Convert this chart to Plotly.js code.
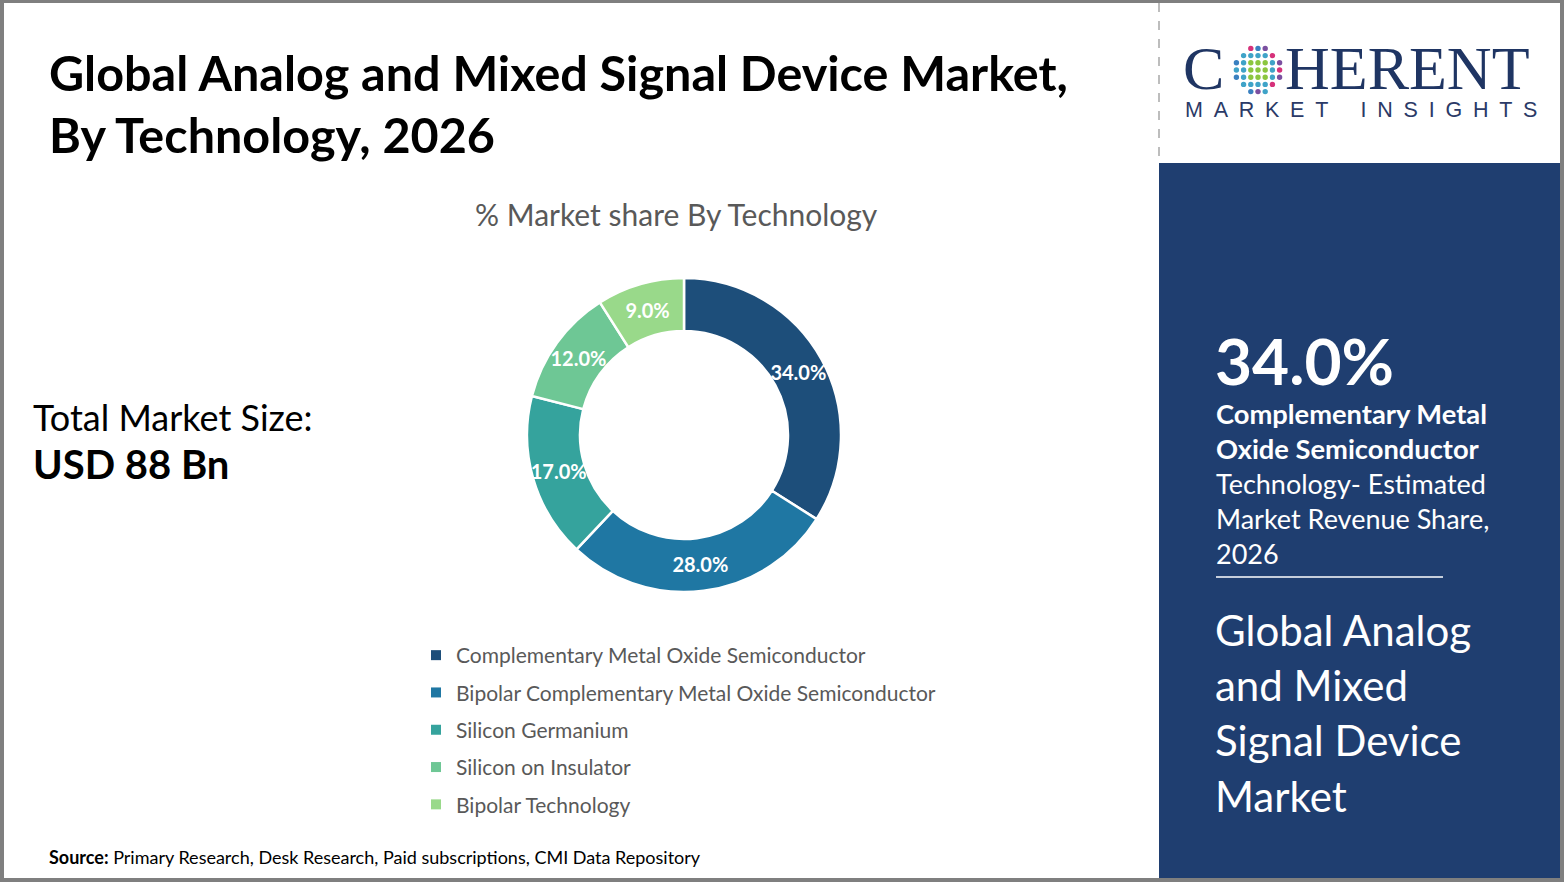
<!DOCTYPE html>
<html>
<head>
<meta charset="utf-8">
<script src="https://cdn.plot.ly/plotly-3.0.1.min.js"></script>
<style>html,body{margin:0;padding:0;background:#7f7f7f;}#chart{width:1564px;height:882px;}</style>
</head>
<body>
<div id="chart"></div>
<script>
// ---- data ----
const categories = [
  "Complementary Metal Oxide Semiconductor",
  "Bipolar Complementary Metal Oxide Semiconductor",
  "Silicon Germanium",
  "Silicon on Insulator",
  "Bipolar Technology"
];
const shares = [34.0, 28.0, 17.0, 12.0, 9.0];
const sliceColors = ["#1d4e7a", "#1f77a3", "#35a39d", "#6ec795", "#99d98a"];
const titleLines = ["Global Analog and Mixed Signal Device Market,", "By Technology, 2026"];
const chartSubtitle = "% Market share By Technology";
const marketSizeLabel = "Total Market Size:";
const marketSizeValue = "USD 88 Bn";
const highlightValue = "34.0%";
const highlightBold = ["Complementary Metal", "Oxide Semiconductor"];
const highlightText = ["Technology- Estimated", "Market Revenue Share,", "2026"];
const panelTitle = ["Global Analog", "and Mixed", "Signal Device", "Market"];
const sourceText = "<b>Source:</b> Primary Research, Desk Research, Paid subscriptions, CMI Data Repository";

// ---- helpers ----
const W = 1564, H = 882;
const px = x => x / W;
const py = y => 1 - y / H;
const BODY = "Lato, 'Open Sans', sans-serif";
const SERIF = "'Liberation Serif', 'DejaVu Serif', serif";

function ann(text, x, y, size, opt) {
  opt = opt || {};
  const a = {
    text: text, x: px(x), y: py(y), xref: 'paper', yref: 'paper',
    xanchor: opt.xanchor || 'left', yanchor: 'middle', showarrow: false,
    font: {family: opt.family || BODY, size: size, color: opt.color || '#000', weight: opt.bold ? 'bold' : 'normal'}
  };
  if (opt.height) { a.height = opt.height; a.valign = 'middle'; }
  return a;
}
function rect(x0, y0, x1, y1, color) {
  return {type: 'rect', xref: 'paper', yref: 'paper', x0: px(x0), x1: px(x1), y0: py(y1), y1: py(y0),
          fillcolor: color, line: {width: 0}, layer: 'below'};
}

// donut geometry (pixels)
const CX = 684, CY = 435, R_OUT = 157, R_IN = 104;
const R_MID = (R_OUT + R_IN) / 2;

// ---- traces ----
// visible donut ring
const pie = {
  type: 'pie',
  labels: categories,
  values: shares,
  sort: false,
  direction: 'clockwise',
  rotation: 0,
  hole: R_IN / R_OUT,
  marker: {colors: sliceColors, line: {color: '#ffffff', width: 2.5}},
  textinfo: 'none',
  showlegend: false,
  hoverinfo: 'label+percent',
  domain: {x: [px(CX - R_OUT), px(CX + R_OUT)], y: [py(CY + R_OUT), py(CY - R_OUT)]}
};
// transparent, slightly thicker ring of the same slices (same mid radius) that carries the % labels
const HALF_BAND = 34;
const R_LBL = R_MID + HALF_BAND;
const labelPie = {
  type: 'pie',
  labels: categories,
  values: shares,
  sort: false,
  direction: 'clockwise',
  rotation: 0,
  hole: (R_MID - HALF_BAND) / R_LBL,
  marker: {colors: shares.map(() => 'rgba(0,0,0,0)'), line: {width: 0}},
  texttemplate: '%{value:.1f}%',
  textposition: 'inside',
  insidetextorientation: 'horizontal',
  textfont: {family: BODY, size: 20, color: '#ffffff', weight: 'bold'},
  showlegend: false,
  hoverinfo: 'skip',
  domain: {x: [px(CX - R_LBL), px(CX + R_LBL)], y: [py(CY + R_LBL), py(CY - R_LBL)]}
};

const legendTraces = categories.map((c, i) => ({
  type: 'scatter', mode: 'markers', x: [null], y: [null],
  name: c, legendgroup: 'g' + i, showlegend: true,
  marker: {symbol: 'square', size: 10, color: sliceColors[i]},
  xaxis: 'x', yaxis: 'y', hoverinfo: 'skip'
}));

// ---- shapes ----
const shapes = [
  rect(4, 3, 1560, 878, '#ffffff'),
  rect(1159, 163, 1560, 878, '#1f3e70'),
  {type: 'line', xref: 'paper', yref: 'paper', x0: px(1159), x1: px(1159), y0: py(3), y1: py(163),
   line: {color: '#bdbdbd', width: 2, dash: 'dash'}, layer: 'below'},
  {type: 'line', xref: 'paper', yref: 'paper', x0: px(1216), x1: px(1443), y0: py(577), y1: py(577),
   line: {color: '#ffffff', width: 1.5}}
];
// logo globe dots (decorative)
const outerCols = ['#d6317a', '#3a80c0', '#7b4fa0', '#3fa3c8'];
let k = 0;
for (let r = -3; r <= 3; r++) {
  for (let c = -3; c <= 3; c++) {
    const d = Math.sqrt(r * r + c * c);
    if (d > 3.3) continue;
    const cx = 1258 + c * 7.2, cy = 70 + r * 7.2;
    let col;
    if (d <= 1.5) col = '#8cc63f';
    else if (d <= 2.3) col = '#3fa3c8';
    else { col = outerCols[k % outerCols.length]; k++; }
    shapes.push({type: 'circle', xref: 'paper', yref: 'paper',
      x0: px(cx - 2.7), x1: px(cx + 2.7), y0: py(cy + 2.7), y1: py(cy - 2.7),
      fillcolor: col, line: {width: 0}});
  }
}

// ---- annotations ----
const annotations = [
  ann(titleLines[0], 47, 72, 48.5, {bold: true}),
  ann(titleLines[1], 47, 134, 48.5, {bold: true}),
  ann(chartSubtitle, 676, 214, 30, {xanchor: 'center', color: '#595959'}),
  ann(marketSizeLabel, 31, 417, 36, {color: '#000'}),
  ann(marketSizeValue, 31, 464, 40, {bold: true}),
  ann(highlightValue, 1213, 360, 64, {bold: true, color: '#fff'}),
  ann(highlightBold[0], 1214, 413, 27.3, {bold: true, color: '#fff'}),
  ann(highlightBold[1], 1214, 448, 27.3, {bold: true, color: '#fff'}),
  ann(highlightText[0], 1214, 483, 27, {color: '#fff'}),
  ann(highlightText[1], 1214, 518, 27, {color: '#fff'}),
  ann(highlightText[2], 1214, 553, 27, {color: '#fff'}),
  ann(panelTitle[0], 1213, 630, 42, {color: '#fff'}),
  ann(panelTitle[1], 1213, 685, 42, {color: '#fff'}),
  ann(panelTitle[2], 1213, 740, 42, {color: '#fff'}),
  ann(panelTitle[3], 1213, 796, 42, {color: '#fff'}),
  ann(sourceText, 47, 857, 18, {color: '#000'}),
  // logo
  ann('C', 1181, 68, 62, {family: SERIF, color: '#1f3563', height: 56}),
  ann('HERENT', 1283, 68, 62, {family: SERIF, color: '#1f3563', height: 56}),
  ann('M\u2002A\u2002R\u2002K\u2002E\u2002T\u2003\u2002I\u2002N\u2002S\u2002I\u2002G\u2002H\u2002T\u2002S', 1183, 110, 21.5,
      {family: "'Liberation Sans', Arial, sans-serif", color: '#2b3a67'})
];

const layout = {
  width: W, height: H,
  margin: {l: 0, r: 0, t: 0, b: 0},
  paper_bgcolor: '#7f7f7f',
  plot_bgcolor: 'rgba(0,0,0,0)',
  xaxis: {visible: false, domain: [0, 0.001], range: [0, 1]},
  yaxis: {visible: false, domain: [0, 0.001], range: [0, 1]},
  showlegend: true,
  legend: {
    x: px(416), xanchor: 'left', y: py(635), yanchor: 'top',
    font: {family: BODY, size: 21, color: '#595959'},
    bgcolor: 'rgba(0,0,0,0)', borderwidth: 0,
    tracegroupgap: 7, traceorder: 'grouped', itemclick: false, itemdoubleclick: false
  },
  shapes: shapes,
  annotations: annotations
};

Plotly.newPlot('chart', [pie, labelPie].concat(legendTraces), layout, {displayModeBar: false, staticPlot: true});
</script>
</body>
</html>
